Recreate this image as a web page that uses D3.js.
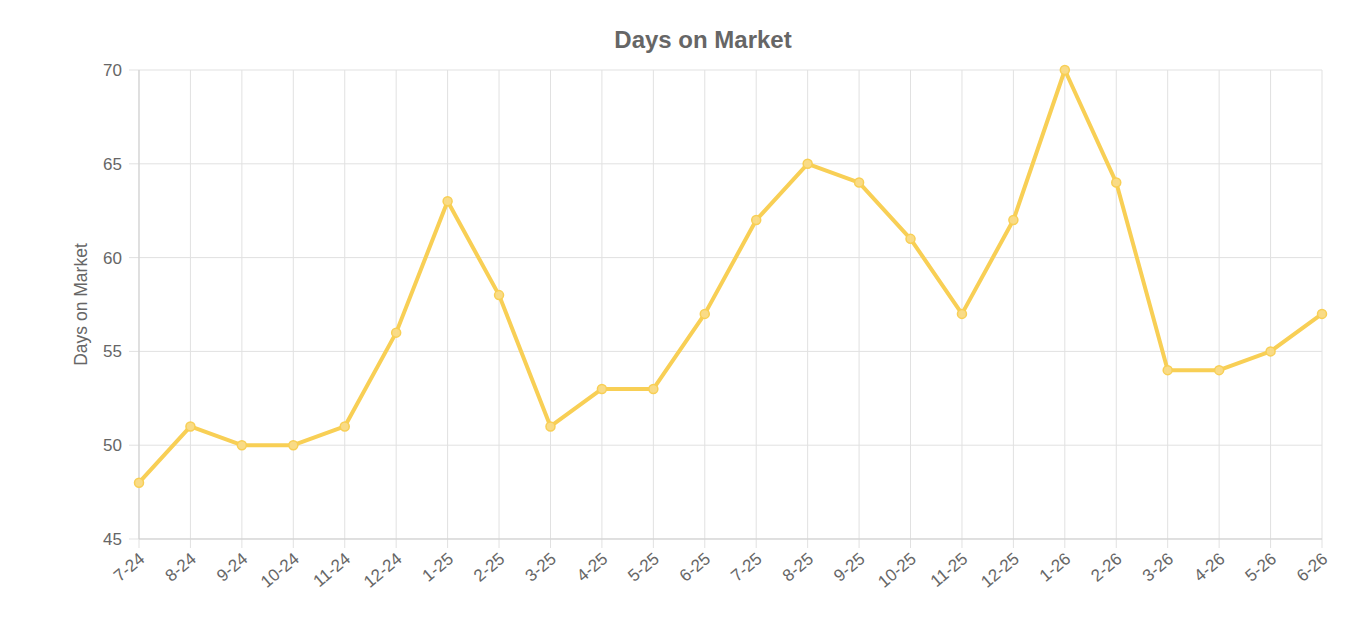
<!DOCTYPE html>
<html><head><meta charset="utf-8">
<script src="https://cdn.jsdelivr.net/npm/d3@7"></script>
<style>body{margin:0;background:#fff;}svg{display:block;font-family:"Liberation Sans",Arial,sans-serif;}</style>
</head><body>
<svg id="c" width="1357" height="627"></svg>
<script>
const categories = ["7-24","8-24","9-24","10-24","11-24","12-24","1-25","2-25","3-25","4-25","5-25","6-25","7-25","8-25","9-25","10-25","11-25","12-25","1-26","2-26","3-26","4-26","5-26","6-26"];
const daysOnMarket = [48,51,50,50,51,56,63,58,51,53,53,57,62,65,64,61,57,62,70,64,54,54,55,57];
const yTicks = [45,50,55,60,65,70];

const svg = d3.select("#c");
const L = 139, R = 1322, T = 70, B = 539;
const x = d3.scalePoint().domain(categories).range([L, R]);
const y = d3.scaleLinear().domain([45, 70]).range([B, T]);
const grid = "#e1e1e1", txt = "#666";

svg.append("g").selectAll("line").data(categories).join("line")
  .attr("x1", d => x(d)).attr("x2", d => x(d)).attr("y1", T).attr("y2", B + 9)
  .attr("stroke", grid).attr("stroke-width", 1);
svg.append("g").selectAll("line").data(yTicks).join("line")
  .attr("x1", L - 10).attr("x2", R).attr("y1", d => y(d)).attr("y2", d => y(d))
  .attr("stroke", grid).attr("stroke-width", 1);
svg.append("line").attr("x1", L).attr("x2", L).attr("y1", T).attr("y2", B).attr("stroke", "#cfcfcf");
svg.append("line").attr("x1", L).attr("x2", R).attr("y1", B).attr("y2", B).attr("stroke", "#cfcfcf");

svg.append("g").selectAll("text").data(yTicks).join("text")
  .attr("x", L - 17).attr("y", d => y(d)).attr("dy", "0.35em")
  .attr("text-anchor", "end").attr("fill", txt).attr("font-size", 17).text(d => d);
svg.append("g").selectAll("text").data(categories).join("text")
  .attr("transform", d => `translate(${x(d) + 3},${B + 17}) rotate(-40)`)
  .attr("text-anchor", "end").attr("dy", "0.35em").attr("fill", txt).attr("font-size", 17).text(d => d);

svg.append("text").attr("x", 703).attr("y", 48).attr("text-anchor", "middle")
  .attr("font-size", 24).attr("font-weight", "bold").attr("fill", txt).text("Days on Market");
svg.append("text").attr("transform", `translate(87,${(T + B) / 2}) rotate(-90)`)
  .attr("text-anchor", "middle").attr("font-size", 17.5).attr("fill", txt).text("Days on Market");

const line = d3.line().x((d, i) => x(categories[i])).y(d => y(d));
svg.append("path").datum(daysOnMarket).attr("d", line).attr("fill", "none")
  .attr("stroke", "#f8cf55").attr("stroke-width", 4).attr("stroke-linejoin", "round");
svg.append("g").selectAll("circle").data(daysOnMarket).join("circle")
  .attr("cx", (d, i) => x(categories[i])).attr("cy", d => y(d)).attr("r", 4.5)
  .attr("fill", "#f9db86").attr("stroke", "#f8cf55").attr("stroke-width", 1.5);
</script>
</body></html>
